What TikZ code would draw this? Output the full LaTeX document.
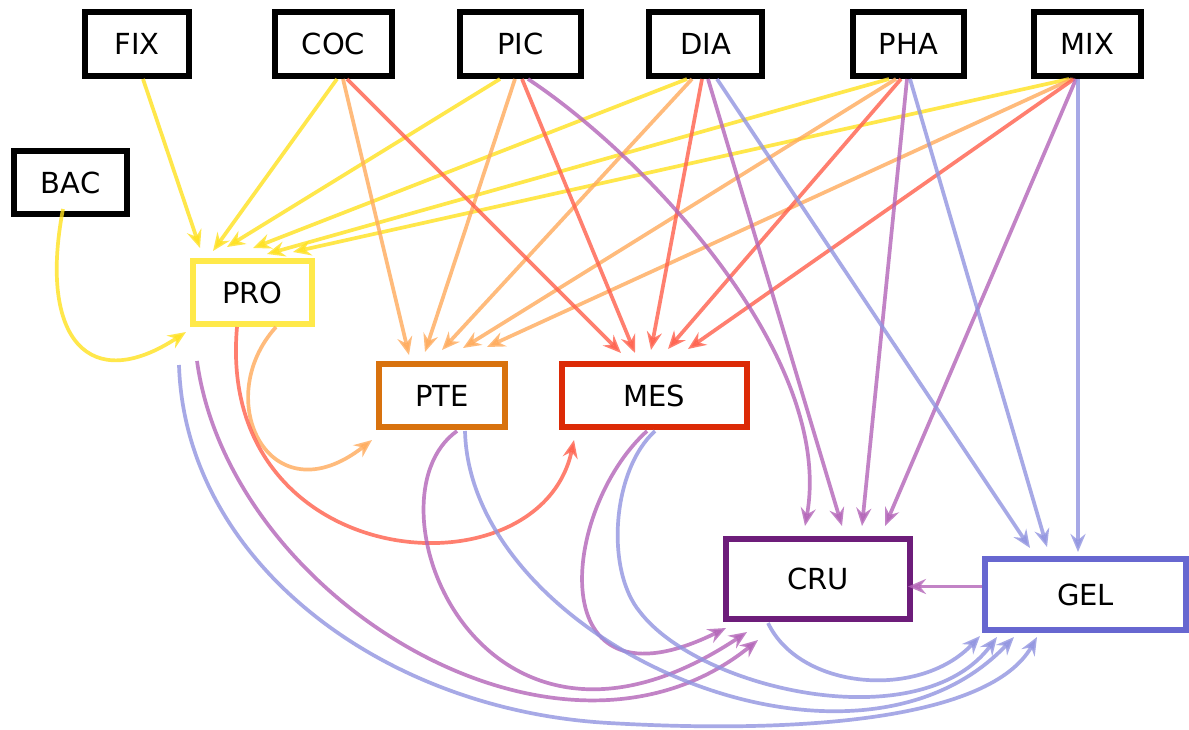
\documentclass[tikz,border=0pt]{standalone}
\usepackage{fontspec}
\setmainfont{DejaVu Sans}
\usetikzlibrary{arrows.meta,calc}
\definecolor{cY}{RGB}{255,225,31}
\definecolor{cO}{RGB}{255,171,92}
\definecolor{cR}{RGB}{255,96,76}
\definecolor{cP}{RGB}{179,100,184}
\definecolor{cB}{RGB}{145,148,224}
\definecolor{bY}{RGB}{255,233,74}
\definecolor{bO}{RGB}{216,114,14}
\definecolor{bR}{RGB}{220,42,6}
\definecolor{bP}{RGB}{109,29,122}
\definecolor{bB}{RGB}{103,103,208}
\begin{document}
\begin{tikzpicture}[x=1pt,y=-1pt,
  box/.style={draw=black,line width=5.7pt,fill=white,inner sep=0pt,
    minimum height=64.3pt,font=\fontsize{29}{34}\selectfont},
  cbox/.style={draw=#1,line width=6.3pt,fill=white,inner sep=0pt,
    minimum height=62.7pt,font=\fontsize{29}{34}\selectfont},
  edge/.style={draw=#1,line width=3.7pt,opacity=0.8,
    -{Stealth[length=18pt,width=15pt,inset=6pt]}}
]
\useasboundingbox (0,0) rectangle (1189,729);
\fill[white] (0,0) rectangle (1189,729);

% top row
\node[box,minimum width=104.3pt] (FIX) at (137,44) {FIX};
\node[box,minimum width=117.3pt] (COC) at (333.5,44) {COC};
\node[box,minimum width=121.3pt] (PIC) at (520.5,44) {PIC};
\node[box,minimum width=113.3pt] (DIA) at (705.5,44) {DIA};
\node[box,minimum width=111.3pt] (PHA) at (908.5,44) {PHA};
\node[box,minimum width=107.3pt] (MIX) at (1087.5,44) {MIX};
\node[box,minimum width=113.3pt,minimum height=63.3pt] (BAC) at (70.5,182.5) {BAC};

% coloured nodes
\node[cbox=bY,minimum width=118.7pt] (PRO) at (252.5,292.5) {PRO};
\node[cbox=bO,minimum width=125.7pt] (PTE) at (442,395.5) {PTE};
\node[cbox=bR,minimum width=184.7pt] (MES) at (654.5,395.5) {MES};
\node[cbox=bP,minimum width=183.7pt,minimum height=79.7pt] (CRU) at (818,579) {CRU};
\node[cbox=bB,minimum width=200.7pt,minimum height=70.7pt] (GEL) at (1085.5,594.5) {GEL};

% into PRO
\draw[edge=cY] ($(FIX.south)+(6,0)$) -- ($(PRO.north)+(-52.5,-10)$);
\draw[edge=cY] ($(COC.south)+(3.5,0)$) -- ($(PRO.north)+(-39.5,-7)$);
\draw[edge=cY] ($(PIC.south)+(-20.5,0)$) -- ($(PRO.north)+(-25.5,-11)$);
\draw[edge=cY] ($(DIA.south)+(-18.5,0)$) -- ($(PRO.north)+(0.5,-10)$);
\draw[edge=cY] ($(PHA.south)+(-19.5,0)$) -- ($(PRO.north)+(14.5,-4)$);
\draw[edge=cY] ($(MIX.south)+(-18.5,0)$) -- ($(PRO.north)+(40.5,-6)$);
\draw[edge=cY] ($(BAC.south)+(-7.5,-8)$) .. controls (38,340) and (90,395) .. ($(PRO.south west)+(-4,5)$);

% into PTE
\draw[edge=cO] ($(COC.south)+(9.5,0)$) -- ($(PTE.north)+(-33,-6)$);
\draw[edge=cO] ($(PIC.south)+(-5.5,0)$) -- ($(PTE.north)+(-17,-9)$);
\draw[edge=cO] ($(DIA.south)+(-13.5,0)$) -- ($(PTE.north)+(0,-11)$);
\draw[edge=cO] ($(PHA.south)+(-12.5,0)$) -- ($(PTE.north)+(21,-13)$);
\draw[edge=cO] ($(MIX.south)+(-15.5,0)$) -- ($(PTE.north)+(45,-14)$);
\draw[edge=cO] ($(PRO.south)+(23.5,0)$) .. controls (210,400) and (270,520) .. ($(PTE.south west)+(-4,10)$);

% into MES
\draw[edge=cR] ($(COC.south)+(13.5,0)$) -- ($(MES.north)+(-33.5,-8)$);
\draw[edge=cR] ($(PIC.south)+(1.5,0)$) -- ($(MES.north)+(-19.5,-8)$);
\draw[edge=cR] ($(DIA.south)+(-3.5,0)$) -- ($(MES.north)+(-3.5,-11)$);
\draw[edge=cR] ($(PHA.south)+(-7.5,0)$) -- ($(MES.north)+(13.5,-12)$);
\draw[edge=cR] ($(MIX.south)+(-13.5,0)$) -- ($(MES.north)+(33.5,-12)$);
\draw[edge=cR] ($(PRO.south)+(-15.5,0)$) .. controls (215,575) and (540,600) .. ($(MES.south west)+(15,10)$);

% into CRU
\draw[edge=cP] ($(PIC.south)+(7.5,0)$) .. controls (650,160) and (835,360) .. ($(CRU.north)+(-13,-10)$);
\draw[edge=cP] ($(DIA.south)+(2.5,0)$) -- ($(CRU.north)+(24,-10)$);
\draw[edge=cP] ($(PHA.south)+(-1.5,0)$) -- ($(CRU.north)+(44,-10)$);
\draw[edge=cP] ($(MIX.south)+(-11.5,0)$) -- ($(CRU.north)+(67,-10)$);
\draw[edge=cP] ($(GEL.west)+(0,-8)$) -- ($(CRU.east)+(-5,7.5)$);
\draw[edge=cP] ($(PRO.south west)+(7,34)$) .. controls (230,600) and (560,800) .. ($(CRU.south west)+(35,18)$);
\draw[edge=cP] ($(PTE.south)+(15,1)$) .. controls (360,500) and (480,810) .. ($(CRU.south west)+(24,10)$);
\draw[edge=cP] ($(MES.south)+(-7.5,1)$) .. controls (560,510) and (540,720) .. ($(CRU.south west)+(3,6)$);

% into GEL
\draw[edge=cB] ($(DIA.south)+(11.5,0)$) -- ($(GEL.north)+(-55.5,-8)$);
\draw[edge=cB] ($(PHA.south)+(1.5,0)$) -- ($(GEL.north)+(-38.5,-9)$);
\draw[edge=cB] ($(MIX.south)+(-9.5,0)$) -- ($(GEL.north)+(-7.5,-4)$);
\draw[edge=cB] ($(PRO.south west)+(-11,38)$) .. controls (185,560) and (380,710) .. (609,723)
   .. controls (800,734) and (990,720) .. ($(GEL.south west)+(55,4)$);
\draw[edge=cB] ($(PTE.south)+(23,1)$) .. controls (470,640) and (850,810) .. ($(GEL.south west)+(32,4)$);
\draw[edge=cB] ($(MES.south)+(0.5,1)$) .. controls (612,470) and (605,570) .. (640,612)
   .. controls (700,690) and (920,740) .. ($(GEL.south west)+(15,4)$);
\draw[edge=cB] ($(CRU.south)+(-50,1)$) .. controls (800,690) and (920,700) .. ($(GEL.south west)+(-2,3)$);
\end{tikzpicture}
\end{document}
